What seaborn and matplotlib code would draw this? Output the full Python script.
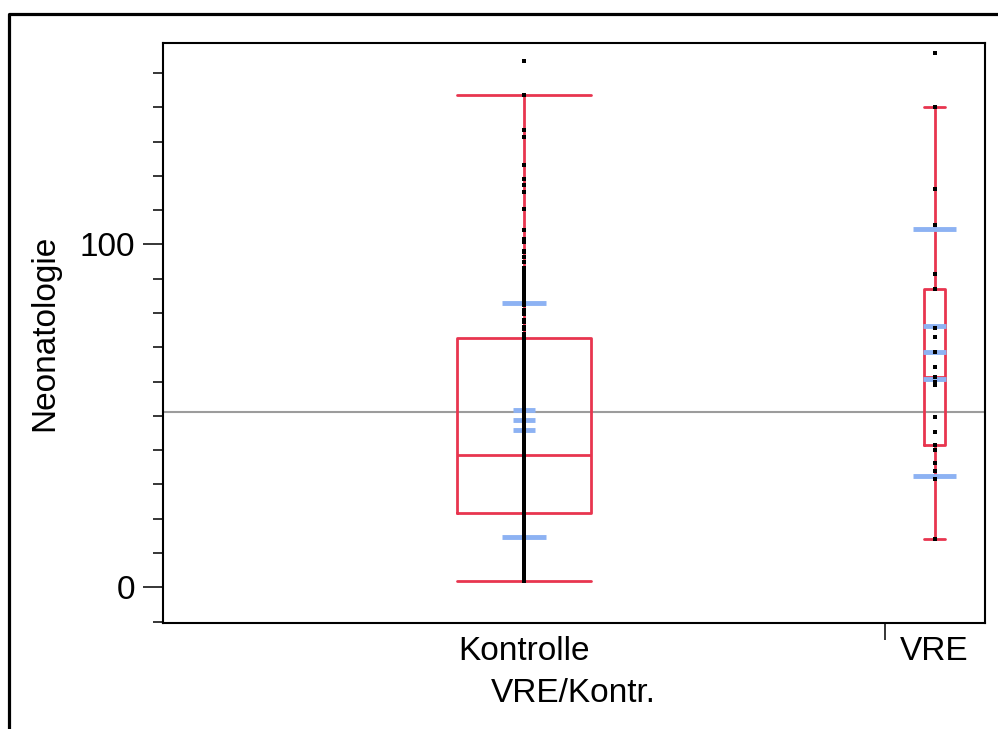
import numpy as np
import pandas as pd
import matplotlib
matplotlib.use("Agg")
import matplotlib.pyplot as plt
from matplotlib.lines import Line2D
import seaborn as sns

# ---------------- data ----------------
groups = ["Kontrolle", "VRE"]

kontrolle_values = [
    1.8, 3, 4, 5, 6, 7, 7, 8, 9, 9,
    10, 10, 11, 11, 12, 12, 13, 13, 14, 14,
    15, 15, 16, 16, 17, 17, 18, 18, 19, 19,
    20, 20, 20, 21, 21, 21, 21.3, 21.6,
    21.9, 22, 23, 23, 24, 24, 25, 25, 26, 26,
    27, 27, 28, 28, 29, 29, 30, 30, 31, 31,
    32, 32, 33, 33, 34, 34, 35, 35, 36, 36,
    37, 37, 37.5, 38, 38, 38.2, 38.4, 38.8,
    40, 41, 42, 43, 44, 45, 46, 47, 48, 49,
    50, 51, 52, 53, 54, 55, 56, 57, 58, 59,
    60, 61, 62, 63, 64, 65, 66, 67, 68, 69,
    70, 70.5, 71, 71.5, 72, 72.4,
    72.7, 73, 74, 75.2, 76, 77.5, 78, 79.8, 80.5, 81,
    82.4, 83, 84, 85.3, 86, 87, 88.3, 89, 90, 91,
    92, 93, 95, 96.4, 97.9, 98, 100.8, 101.6, 104.3, 110.4,
    115.3, 117.4, 119, 123.2, 131.4, 133.4, 143.7, 153.6,
]

vre_values = [
    14.0, 31.5, 33.8, 36.2, 40.0, 41.6, 45.4, 49.6, 59.0, 60.0,
    61.2, 64.4, 68.5, 73.1, 75.5, 86.9, 91.3, 105.7, 116.3, 140.2,
    155.7,
]

group_means = [48.8, 68.5]
group_sds = [34.0, 36.0]
group_ses = [2.8, 7.6]
grand_mean = 51.2

x_label = "VRE/Kontr."
y_label = "Neonatologie"
y_major_ticks = [0, 100]
y_minor_ticks = list(range(-10, 160, 10))

df = pd.DataFrame({
    "group": ["Kontrolle"] * len(kontrolle_values) + ["VRE"] * len(vre_values),
    "value": kontrolle_values + vre_values,
})

# ---------------- style ----------------
sns.set_theme(style="white")
plt.rcParams["font.family"] = ["Liberation Sans", "DejaVu Sans"]

red = "#E8354F"
blue = "#8DB2F3"
box_widths = [0.326, 0.051]

W, H = 998, 729
fig = plt.figure(figsize=(W / 100, H / 100), dpi=100)
ax_l, ax_r, ax_t, ax_b = 162.5, 985.0, 42.5, 623.0
ax = fig.add_axes([ax_l / W, 1 - ax_b / H, (ax_r - ax_l) / W, (ax_b - ax_t) / H])

# grand mean line
ax.axhline(grand_mean, color="#9c9c9c", lw=1.5, zorder=1)

# boxes (one call per group so each gets its own width)
for g, w in zip(groups, box_widths):
    sns.boxplot(data=df[df["group"] == g], x="group", y="value", order=groups,
                width=w, fill=False, color=red, linewidth=2.0,
                showfliers=False, capwidths=w, ax=ax, zorder=2)

# mean / std-dev / std-error lines
for i, (m, sd, se) in enumerate(zip(group_means, group_sds, group_ses)):
    ax.hlines([m - sd, m + sd], i - 0.053, i + 0.053, color=blue, lw=3.5, zorder=3)
    ax.hlines([m - se, m, m + se], i - 0.027, i + 0.027, color=blue, lw=3.5, zorder=3)

# raw points
sns.stripplot(data=df, x="group", y="value", order=groups, jitter=False,
              marker="s", size=2.8, color="black", linewidth=0, ax=ax, zorder=4)

# ---------------- axes ----------------
ax.set_xlim(-0.881, 1.123)
ax.set_ylim(-10.4, 158.9)

ax.set_xticks([0, 1])
ax.set_xticklabels(groups)
ax.set_xticks([0.879], minor=True)
ax.tick_params(axis="x", which="major", length=0, pad=9, labelsize=24, colors="black")
ax.tick_params(axis="x", which="minor", length=12.5, width=1.1, color="black", bottom=True)

ax.set_yticks(y_major_ticks)
ax.set_yticks(y_minor_ticks, minor=True)
ax.tick_params(axis="y", which="major", length=14.4, width=1.1, pad=5.5, labelsize=24,
               colors="black", left=True)
ax.tick_params(axis="y", which="minor", length=7.2, width=1.1, color="black", left=True)

ax.set_xlabel(x_label, fontsize=24, labelpad=8, color="black")
ax.set_ylabel(y_label, fontsize=24, labelpad=14, color="black")

for s in ax.spines.values():
    s.set_visible(True)
    s.set_color("black")
    s.set_linewidth(1.5)
ax.grid(False)

# outer frame (cut off at right/bottom)
fig.add_artist(Line2D([8.5 / W, 8.5 / W, 1.01], [-0.01, 1 - 14 / H, 1 - 14 / H],
                      transform=fig.transFigure, color="black", lw=2.3))

fig.savefig("out.png", dpi=100)
